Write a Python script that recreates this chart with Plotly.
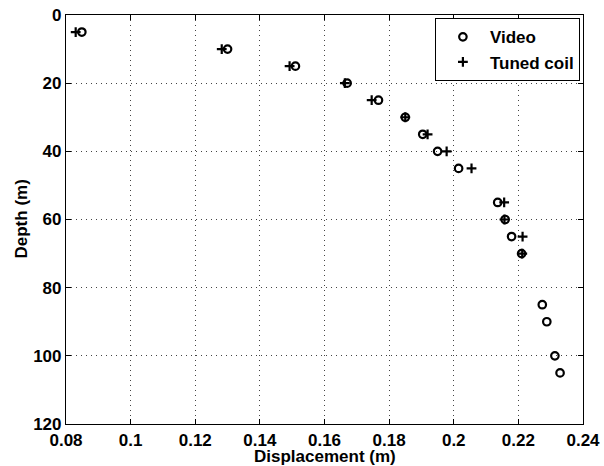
import plotly.graph_objects as go

video_depth = [5, 10, 15, 20, 25, 30, 35, 40, 45, 55, 60, 65, 70, 85, 90, 100, 105]
video_disp = [0.0849, 0.1300, 0.1510, 0.1670, 0.1767, 0.1850, 0.1904, 0.1950, 0.2015,
              0.2136, 0.2159, 0.2179, 0.2210, 0.2274, 0.2288, 0.2313, 0.2329]

coil_depth = [5, 10, 15, 20, 25, 30, 35, 40, 45, 55, 60, 65, 70]
coil_disp = [0.0830, 0.1282, 0.1492, 0.1663, 0.1746, 0.1850, 0.1919, 0.1978, 0.2055,
             0.2156, 0.2157, 0.2213, 0.2212]

x_ticks = [0.08, 0.1, 0.12, 0.14, 0.16, 0.18, 0.2, 0.22, 0.24]
x_tick_labels = ["0.08", "0.1", "0.12", "0.14", "0.16", "0.18", "0.2", "0.22", "0.24"]
y_ticks = [0, 20, 40, 60, 80, 100, 120]

FONT = "Liberation Sans"

fig = go.Figure()
fig.add_trace(go.Scatter(
    x=video_disp, y=video_depth, mode="markers", name="Video",
    marker=dict(symbol="circle-open", size=7.5, color="black", line=dict(width=2.2, color="black")),
))
fig.add_trace(go.Scatter(
    x=coil_disp, y=coil_depth, mode="markers", name="Tuned coil",
    marker=dict(symbol="cross-thin-open", size=7, color="black", line=dict(width=2.2, color="black")),
))

axis_common = dict(
    showline=True, linecolor="black", linewidth=1.2, mirror="ticks",
    ticks="inside", ticklen=5, tickcolor="black", tickwidth=1,
    showgrid=True, gridcolor="#444444", griddash="1px,4px", gridwidth=1,
    zeroline=False, automargin=False,
    tickfont=dict(family=FONT, size=17, color="#000000", weight="bold"),
)

title_font = dict(family=FONT, size=17, color="#000000", weight="bold")

fig.update_layout(
    width=604, height=466,
    margin=dict(l=66, r=21, t=15, b=42),
    paper_bgcolor="white", plot_bgcolor="white",
    font=dict(family=FONT, color="#000000"),
    showlegend=True,
    legend=dict(
        x=0.994, y=0.992, xanchor="right", yanchor="top",
        bgcolor="white", bordercolor="black", borderwidth=1,
        font=dict(family=FONT, size=17, color="#000000", weight="bold"),
        itemwidth=44, tracegroupgap=0,
    ),
    xaxis=dict(
        range=[0.08, 0.24], tickvals=x_ticks, ticktext=x_tick_labels,
        **axis_common,
    ),
    yaxis=dict(
        range=[120, 0], tickvals=y_ticks,
        **axis_common,
    ),
    annotations=[
        dict(text="Displacement (m)", xref="paper", yref="paper", x=0.5, y=0,
             xanchor="center", yanchor="middle", yshift=-32, showarrow=False,
             font=title_font),
        dict(text="Depth (m)", xref="paper", yref="paper", x=0, y=0.5,
             xanchor="center", yanchor="middle", xshift=-45, textangle=-90,
             showarrow=False, font=title_font),
    ],
)

fig.write_html("out.html", config={"displayModeBar": False},
               post_script="document.body.style.margin='0px';")
